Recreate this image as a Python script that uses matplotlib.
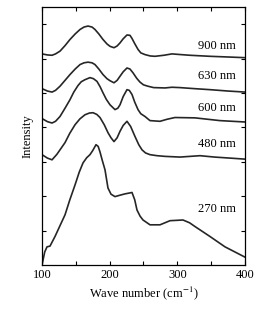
import matplotlib
matplotlib.use("Agg")
import matplotlib.pyplot as plt

plt.rcParams['font.family'] = ['Liberation Serif', 'DejaVu Serif']
plt.rcParams['mathtext.fontset'] = 'stix'

# spectra (wave number in cm^-1, intensity in arbitrary offset units)
x900 = [100, 108, 114.8, 120, 126.6, 134, 141.4, 149, 156.2, 162, 168.0, 174, 178.3, 184,
        190.1, 196, 200.5, 206.4, 211, 215.3, 220, 225.6, 230, 233.0, 237, 241.9, 246,
        252.2, 260, 267.0, 280, 292.1, 305, 318.7, 348.3, 375, 400]
y900 = [6.14, 6.11, 6.10, 6.14, 6.22, 6.38, 6.56, 6.72, 6.85, 6.92, 6.95, 6.92, 6.85, 6.72,
        6.56, 6.43, 6.36, 6.32, 6.37, 6.46, 6.58, 6.69, 6.68, 6.59, 6.44, 6.27, 6.17,
        6.12, 6.08, 6.07, 6.10, 6.14, 6.12, 6.10, 6.07, 6.05, 6.03]

x630 = [100, 108, 114.8, 120, 126.6, 134, 141.4, 149, 156.2, 162, 168.0, 174, 178.3, 184,
        190.1, 196, 200.5, 206.4, 211, 215.3, 220, 225.6, 230, 234.5, 240, 244.8, 250,
        256.6, 265, 281.8, 292, 303.9, 325, 348.3, 375, 400]
y630 = [5.13, 5.06, 5.03, 5.08, 5.20, 5.37, 5.54, 5.70, 5.83, 5.88, 5.90, 5.88, 5.83, 5.70,
        5.54, 5.42, 5.36, 5.30, 5.37, 5.49, 5.62, 5.73, 5.70, 5.59, 5.43, 5.32, 5.24,
        5.20, 5.16, 5.15, 5.17, 5.16, 5.13, 5.10, 5.06, 5.03]

x600 = [100, 108, 114.8, 120, 126.6, 134, 141.4, 147, 153.2, 158, 163.5, 170.9, 176, 181.3,
        186, 190.1, 195, 200.5, 207.9, 212, 215.3, 220, 225.6, 229, 233.0, 237, 241.9, 246,
        252.2, 259.6, 274.4, 285, 296.5, 326.1, 363.0, 400]
y600 = [4.26, 4.17, 4.13, 4.18, 4.32, 4.56, 4.81, 5.03, 5.22, 5.33, 5.39, 5.45, 5.42, 5.34,
        5.18, 5.01, 4.82, 4.66, 4.52, 4.56, 4.66, 4.90, 5.10, 5.08, 4.96, 4.74, 4.52, 4.40,
        4.32, 4.20, 4.18, 4.24, 4.29, 4.28, 4.20, 4.16]

x480 = [100, 108, 114.8, 122, 134.0, 141, 148.8, 156, 163.5, 170, 175.4, 181, 185.7, 192,
        197.5, 202, 206.4, 211, 215.3, 220, 225.6, 231, 237.4, 243, 247.8, 253,
        259.6, 270, 281.8, 303.9, 333.5, 355, 377.8, 400]
y480 = [3.21, 3.11, 3.06, 3.22, 3.56, 3.83, 4.08, 4.25, 4.37, 4.42, 4.43, 4.38, 4.29, 4.08,
        3.85, 3.70, 3.59, 3.70, 3.89, 4.06, 4.18, 4.03, 3.74, 3.50, 3.35, 3.26,
        3.21, 3.18, 3.16, 3.14, 3.18, 3.14, 3.11, 3.08]

x270 = [100, 104, 107.4, 111.8, 119.2, 126, 134.0, 141, 148.8, 155, 160.6, 166, 170.9, 175,
        179.8, 183, 185.7, 189, 193.1, 197.5, 202, 207.9, 215, 222.7, 228, 233.0, 237,
        240.4, 245, 249.3, 259.6, 274.4, 289.2, 308.4, 318, 326.1, 348.3, 370.4, 400]
y270 = [0.0, 0.38, 0.53, 0.55, 0.83, 1.12, 1.46, 1.89, 2.33, 2.70, 2.97, 3.12, 3.21, 3.33,
        3.50, 3.45, 3.29, 3.05, 2.77, 2.24, 2.06, 1.99, 2.03, 2.07, 2.09, 2.11, 1.90,
        1.60, 1.42, 1.31, 1.17, 1.17, 1.29, 1.31, 1.23, 1.12, 0.83, 0.53, 0.23]

labels = ['900 nm', '630 nm', '600 nm', '480 nm', '270 nm']
label_y = [6.36, 5.49, 4.57, 3.52, 1.63]

fig = plt.figure(figsize=(2.71, 3.10), dpi=100)
ax = fig.add_axes([0.155, 0.145, 0.749, 0.832])

for xs, ys in [(x900, y900), (x630, y630), (x600, y600), (x480, y480), (x270, y270)]:
    ax.plot(xs, ys, color='#262626', lw=1.2, solid_joinstyle='round')

for t, yy in zip(labels, label_y):
    ax.text(387, yy, t, ha='right', va='center', fontsize=9)

ax.set_xlim(100, 400)
ax.set_ylim(0, 7.5)
ax.set_xticks([100, 150, 200, 250, 300, 350, 400])
ax.set_xticklabels(['100', '', '200', '', '300', '', '400'])
ax.set_yticks([1, 2, 3, 4, 5, 6, 7])
ax.set_yticklabels([])
ax.tick_params(direction='in', top=True, right=True, length=3, width=0.8, labelsize=9, pad=3)
for s in ax.spines.values():
    s.set_linewidth(0.9)

ax.set_xlabel(r'Wave number (cm$^{-1}$)', fontsize=9, labelpad=2)
ax.set_ylabel('Intensity', fontsize=9, labelpad=3)

fig.savefig('out.png', dpi=100)
